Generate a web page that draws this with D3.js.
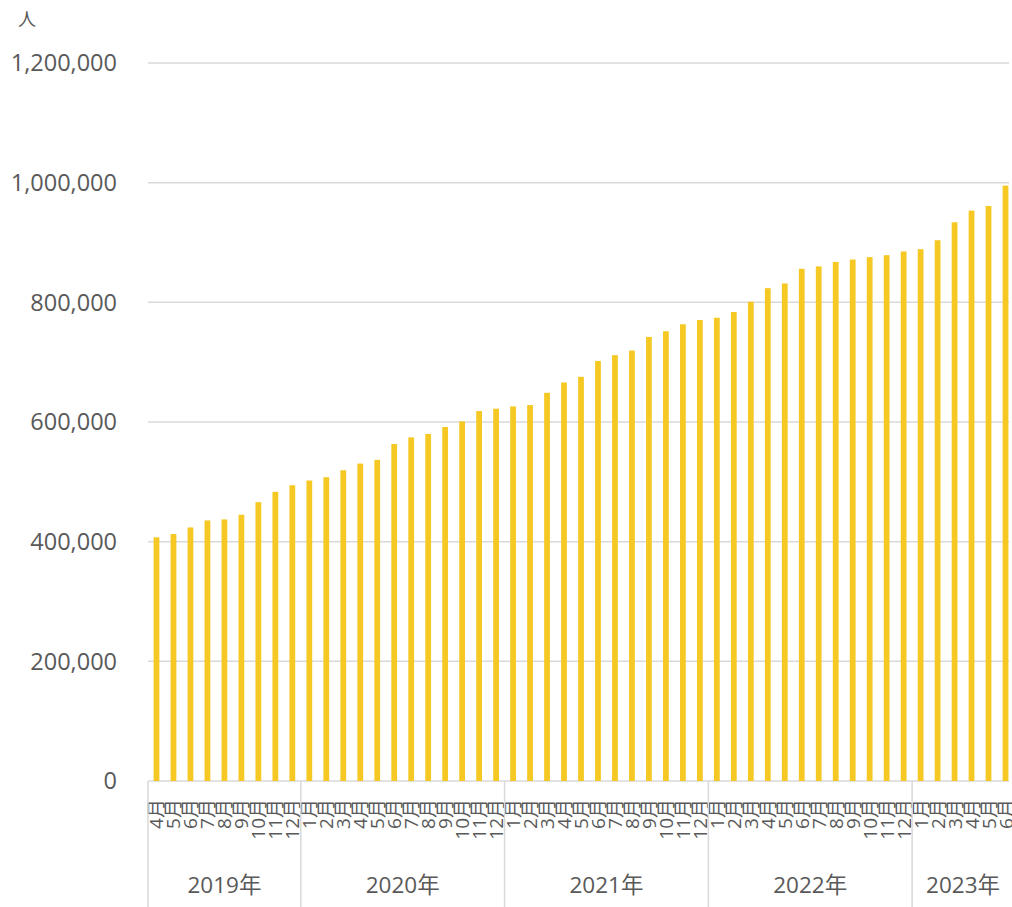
<!DOCTYPE html>
<html lang="ja">
<head>
    <meta charset="UTF-8">
    <title>人数推移</title>
    <script type="text/javascript" src="https://cdn.jsdelivr.net/npm/d3@7"></script>
    <style type="text/css">
        body { margin: 0; background: #fff; }
        text { font-family: "Open Sans", "Noto Sans CJK JP", sans-serif; fill: #595959; }
    </style>
</head>
<body>
    <script type="text/javascript">
        //Width and height
        var w = 1012;
        var h = 907;

        //Data
        var yearLabels = ["2019年", "2020年", "2021年", "2022年", "2023年"];
        var yearMonths = [
            [4, 5, 6, 7, 8, 9, 10, 11, 12],
            [1, 2, 3, 4, 5, 6, 7, 8, 9, 10, 11, 12],
            [1, 2, 3, 4, 5, 6, 7, 8, 9, 10, 11, 12],
            [1, 2, 3, 4, 5, 6, 7, 8, 9, 10, 11, 12],
            [1, 2, 3, 4, 5, 6]
        ];
        var values = [
            407200, 412700, 423800, 435500, 437200, 445000, 466000, 483300, 494300,
            502200, 507700, 519300, 530500, 536700, 563300, 574300, 580000, 591700, 601000, 618300, 622200,
            626000, 628300, 648800, 666000, 675500, 702000, 711700, 719300, 742200, 751700, 763300, 770500,
            774300, 783800, 801000, 823700, 831500, 856000, 860000, 867500, 871500, 875500, 878800, 885000,
            888800, 903800, 933800, 953300, 961000, 995000
        ];
        var yTicks = [0, 200000, 400000, 600000, 800000, 1000000, 1200000];

        //Flatten categories
        var categories = [];
        yearMonths.forEach(function(ms, yi) {
            ms.forEach(function(m) {
                categories.push({ key: yearLabels[yi] + m, month: m + "月", year: yi });
            });
        });
        var data = categories.map(function(c, i) {
            return { key: c.key, month: c.month, year: c.year, value: values[i] };
        });

        //Plot area
        var plotLeft = 148, plotRight = 1014, plotTop = 63, plotBottom = 781;

        //Scales
        var xScale = d3.scaleBand()
            .domain(data.map(function(d) { return d.key; }))
            .range([plotLeft, plotRight]);

        var yScale = d3.scaleLinear()
            .domain([0, 1200000])
            .range([plotBottom, plotTop]);

        var svg = d3.select("body")
            .append("svg")
            .attr("width", w)
            .attr("height", h);

        //Gridlines
        svg.selectAll("line.grid")
            .data(yTicks)
            .enter()
            .append("line")
            .attr("class", "grid")
            .attr("x1", plotLeft)
            .attr("x2", 1009)
            .attr("y1", function(d) { return yScale(d); })
            .attr("y2", function(d) { return yScale(d); })
            .attr("stroke", "#d9d9d9")
            .attr("stroke-width", 1.5);

        //Y labels
        svg.selectAll("text.ytick")
            .data(yTicks)
            .enter()
            .append("text")
            .attr("class", "ytick")
            .attr("x", 117)
            .attr("y", function(d) { return yScale(d); })
            .attr("dy", "0.36em")
            .attr("text-anchor", "end")
            .attr("font-size", "23.5px")
            .text(function(d) { return d3.format(",")(d); });

        //Unit
        svg.append("text")
            .attr("x", 27)
            .attr("y", 26)
            .attr("text-anchor", "middle")
            .attr("font-size", "18px")
            .text("人");

        //Bars
        var bw = xScale.bandwidth();
        svg.selectAll("rect")
            .data(data)
            .enter()
            .append("rect")
            .attr("x", function(d) { return xScale(d.key) + bw * 0.33; })
            .attr("width", bw * 0.34)
            .attr("y", function(d) { return yScale(d.value); })
            .attr("height", function(d) { return yScale(0) - yScale(d.value); })
            .attr("fill", "#f5c823");

        //Month labels
        svg.selectAll("text.month")
            .data(data)
            .enter()
            .append("text")
            .attr("class", "month")
            .attr("font-size", "19px")
            .attr("text-anchor", "end")
            .attr("transform", function(d) {
                var cx = xScale(d.key) + bw / 2;
                return "translate(" + (cx + 7) + ",799) rotate(-90)";
            })
            .text(function(d) { return d.month; });

        //Year groups
        var starts = [];
        var idx = 0;
        yearMonths.forEach(function(ms) {
            starts.push(idx);
            idx += ms.length;
        });
        var groupX = starts.map(function(s) { return xScale(data[s].key); });

        svg.selectAll("line.sep")
            .data(groupX)
            .enter()
            .append("line")
            .attr("class", "sep")
            .attr("x1", function(d) { return d; })
            .attr("x2", function(d) { return d; })
            .attr("y1", plotBottom)
            .attr("y2", h)
            .attr("stroke", "#d9d9d9")
            .attr("stroke-width", 1.5);

        svg.selectAll("text.year")
            .data(yearLabels)
            .enter()
            .append("text")
            .attr("class", "year")
            .attr("x", function(d, i) {
                var s = starts[i], e = s + yearMonths[i].length - 1;
                return (xScale(data[s].key) + xScale(data[e].key) + bw) / 2;
            })
            .attr("y", 893)
            .attr("text-anchor", "middle")
            .attr("font-size", "22.5px")
            .text(function(d) { return d; });
    </script>
</body>
</html>
